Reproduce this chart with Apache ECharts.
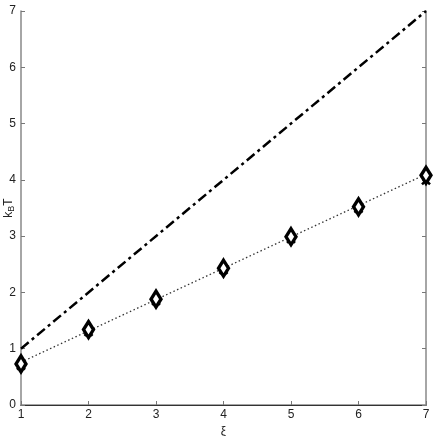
<!DOCTYPE html>
<html>
<head>
<meta charset="utf-8">
<script src="https://cdn.jsdelivr.net/npm/echarts@6/dist/echarts.min.js"></script>
<style>
  html, body { margin: 0; padding: 0; background: #fff; }
  #chart { width: 436px; height: 436px; }
</style>
</head>
<body>
<div id="chart"></div>
<script>
// data
var xi = [1, 2, 3, 4, 5, 6, 7];
var diamondVals = [0.73, 1.34, 1.88, 2.43, 2.99, 3.52, 4.08];
var crossVals = [0.70, 1.30, 1.85, 2.40, 2.95, 3.49, 3.99];
var fitEnds = [0.76, 4.10];      // dotted fit line at xi = 1 and 7
var refEnds = [1, 7];            // dash-dot line kB T = xi
var xTicks = [1, 2, 3, 4, 5, 6, 7];
var yTicks = [0, 1, 2, 3, 4, 5, 6, 7];

var chart = echarts.init(document.getElementById("chart"));
var font = "Liberation Sans";

function pairs(xs, ys) {
  var out = [];
  for (var i = 0; i < xs.length; i++) out.push([xs[i], ys[i]]);
  return out;
}

var crossPath = "path://M0,0L10,10M10,0L0,10";

var option = {
  animation: false,
  backgroundColor: "#fff",
  grid: { left: 21, right: 10, top: 11, bottom: 31, containLabel: false, outerBoundsMode: "none" },
  // y axis title k_B T, reads bottom to top
  graphic: [
    {
      type: "text",
      x: 9,
      y: 208,
      rotation: Math.PI / 2,
      style: {
        text: "{a|k}{s|B}{a|T}",
        align: "center",
        verticalAlign: "middle",
        rich: {
          a: { fontFamily: font, fontSize: 12, fill: "#222" },
          s: { fontFamily: font, fontSize: 9, fill: "#222", padding: [6, 0, 0, 0] }
        }
      }
    }
  ],
  xAxis: [
    {
      type: "value",
      min: xTicks[0],
      max: xTicks[xTicks.length - 1],
      interval: 1,
      name: "ξ",
      nameLocation: "middle",
      nameGap: 19,
      nameTextStyle: { fontFamily: font, fontSize: 12, color: "#222" },
      axisLine: { lineStyle: { color: "#888", width: 1.5 } },
      axisTick: { inside: true, length: 4, lineStyle: { color: "#777" } },
      axisLabel: { fontFamily: font, fontSize: 12, color: "#222", margin: 4 },
      splitLine: { show: false }
    },
    {
      type: "value",
      position: "top",
      min: xTicks[0],
      max: xTicks[xTicks.length - 1],
      axisLine: { lineStyle: { color: "#333", width: 1 } },
      axisTick: { show: false },
      axisLabel: { show: false },
      splitLine: { show: false }
    }
  ],
  yAxis: [
    {
      type: "value",
      min: yTicks[0],
      max: yTicks[yTicks.length - 1],
      interval: 1,
      axisLine: { show: true, lineStyle: { color: "#888", width: 1.5 } },
      axisTick: { show: true, inside: true, length: 4, lineStyle: { color: "#777" } },
      axisLabel: { fontFamily: font, fontSize: 12, color: "#222", margin: 5 },
      splitLine: { show: false }
    },
    {
      type: "value",
      position: "right",
      min: yTicks[0],
      max: yTicks[yTicks.length - 1],
      interval: 1,
      axisLine: { show: true, lineStyle: { color: "#888", width: 1.5 } },
      axisTick: { show: true, inside: true, length: 4, lineStyle: { color: "#777" } },
      axisLabel: { show: false },
      splitLine: { show: false }
    }
  ],
  series: [
    {
      type: "line",
      data: pairs([xi[0], xi[xi.length - 1]], refEnds),
      showSymbol: false,
      lineStyle: { color: "#000", width: 2.5, type: [10, 4, 3, 4] },
      z: 2
    },
    {
      type: "line",
      data: pairs([xi[0], xi[xi.length - 1]], fitEnds),
      showSymbol: false,
      lineStyle: { color: "#333", width: 1.3, type: [1.5, 2.5] },
      z: 2
    },
    {
      type: "scatter",
      data: pairs(xi, crossVals),
      symbol: crossPath,
      symbolSize: [8, 8],
      itemStyle: { color: "none", borderColor: "#000", borderWidth: 2.5, opacity: 1 },
      z: 3
    },
    {
      type: "scatter",
      data: pairs(xi, diamondVals),
      symbol: "diamond",
      symbolSize: [10, 16],
      itemStyle: { color: "#fff", borderColor: "#000", borderWidth: 3.5, opacity: 1 },
      z: 4
    }
  ]
};

chart.setOption(option);
</script>
</body>
</html>
